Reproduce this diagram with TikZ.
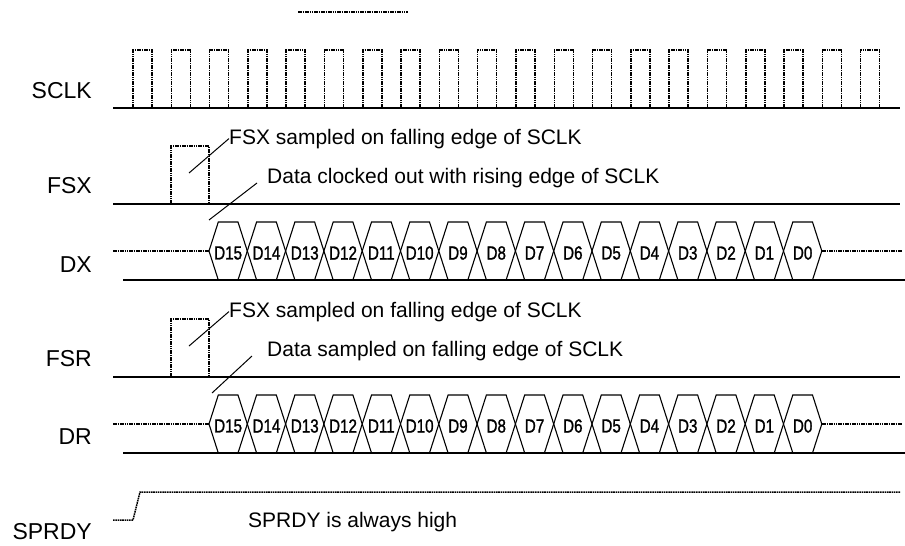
\documentclass[tikz,border=0pt]{standalone}
\usepackage{fontspec}
\setmainfont{Liberation Sans}
\newfontfamily\narrowfont[FakeStretch=0.8,FakeBold=1.2]{Liberation Sans}

\begin{document}
\begin{tikzpicture}[x=1pt,y=-1pt]
        \tikzstyle{every node}=[inner sep=0pt]
        \tikzstyle{sig}=[anchor=base east,font=\fontsize{23}{27}\selectfont]
        \tikzstyle{note}=[anchor=base west,font=\fontsize{21}{25}\selectfont]
        \tikzstyle{bit}=[font=\narrowfont\fontsize{19}{23}\selectfont]
        \tikzstyle{wave}=[line width=1.5pt,dash pattern=on 1.6pt off 0.7pt]
        \tikzstyle{rail}=[line width=1.4pt]
        \tikzstyle{bus}=[line width=1.1pt,line join=miter]
        \tikzstyle{lead}=[line width=1pt]
        \useasboundingbox (0,0) rectangle (905,546);

        \draw[wave] (298,12) -- (408,12);

        % clock
        \node[sig] (sclk) at (92,98) {SCLK};
        \draw[rail] (113,108) -- (900,108);
        \foreach \k in {0,...,19}
                \draw[wave] ({133+38.3*\k},108) |- ++(19,-58) -- ++(0,58);

        % transmit side
        \node[sig] (fsx) at (92,193) {FSX};
        \draw[rail] (113,204) -- (900,204);
        \draw[wave] (171,204) |- (209,146) -- (209,204);
        \node[note] (fsxnote) at (229,144) {FSX sampled on falling edge of SCLK};
        \coordinate (fsxfall) at (189,173);
        \draw[lead] (fsxfall) -- (fsxnote.west);
        \node[note] (dxnote) at (267,183) {Data clocked out with rising edge of SCLK};
        \coordinate (dxrise) at (209,220);
        \draw[lead] (dxrise) -- ([xshift=-10pt]dxnote.base west);
        \node[sig] (dx) at (92,272) {DX};

        % receive side
        \node[sig] (fsr) at (92,366) {FSR};
        \draw[rail] (113,377) -- (900,377);
        \draw[wave] (171,377) |- (209,319) -- (209,377);
        \node[note] (fsrnote) at (229,317) {FSX sampled on falling edge of SCLK};
        \coordinate (fsrfall) at (189,346);
        \draw[lead] (fsrfall) -- (fsrnote.west);
        \node[note] (drnote) at (267,356) {Data sampled on falling edge of SCLK};
        \coordinate (drfall) at (212,393);
        \draw[lead] (drfall) -- ([xshift=-15pt]drnote.base west);
        \node[sig] (dr) at (92,444) {DR};

        % data words
        \foreach \row/\mid in {dx/251,dr/424} {
                \draw[wave] (113,\mid) -- (209,\mid);
                \draw[wave] (822,\mid) -- (902,\mid);
                \draw[rail] (123,\mid+29) -- (905,\mid+29);
                \foreach \b [count=\i from 0] in {15,...,0} {
                        \pgfmathsetmacro{\xa}{209+38.3*\i}
                        \draw[bus] (\xa,\mid) -- ++(9.3,-29) -- ++(19.7,0) -- ++(9.3,29)
                                -- ++(-9.3,29) -- ++(-19.7,0) -- cycle;
                        \node[bit] (\row\b) at (\xa+19.15,\mid+2) {D\b};
                }
        }

        % ready line
        \node[sig] (sprdy) at (92,539) {SPRDY};
        \draw[wave] (113,520) -- (133,520) -- (140,492) -- (900,492);
        \node[note] (sprdynote) at (248,527) {SPRDY is always high};
\end{tikzpicture}
\end{document}
